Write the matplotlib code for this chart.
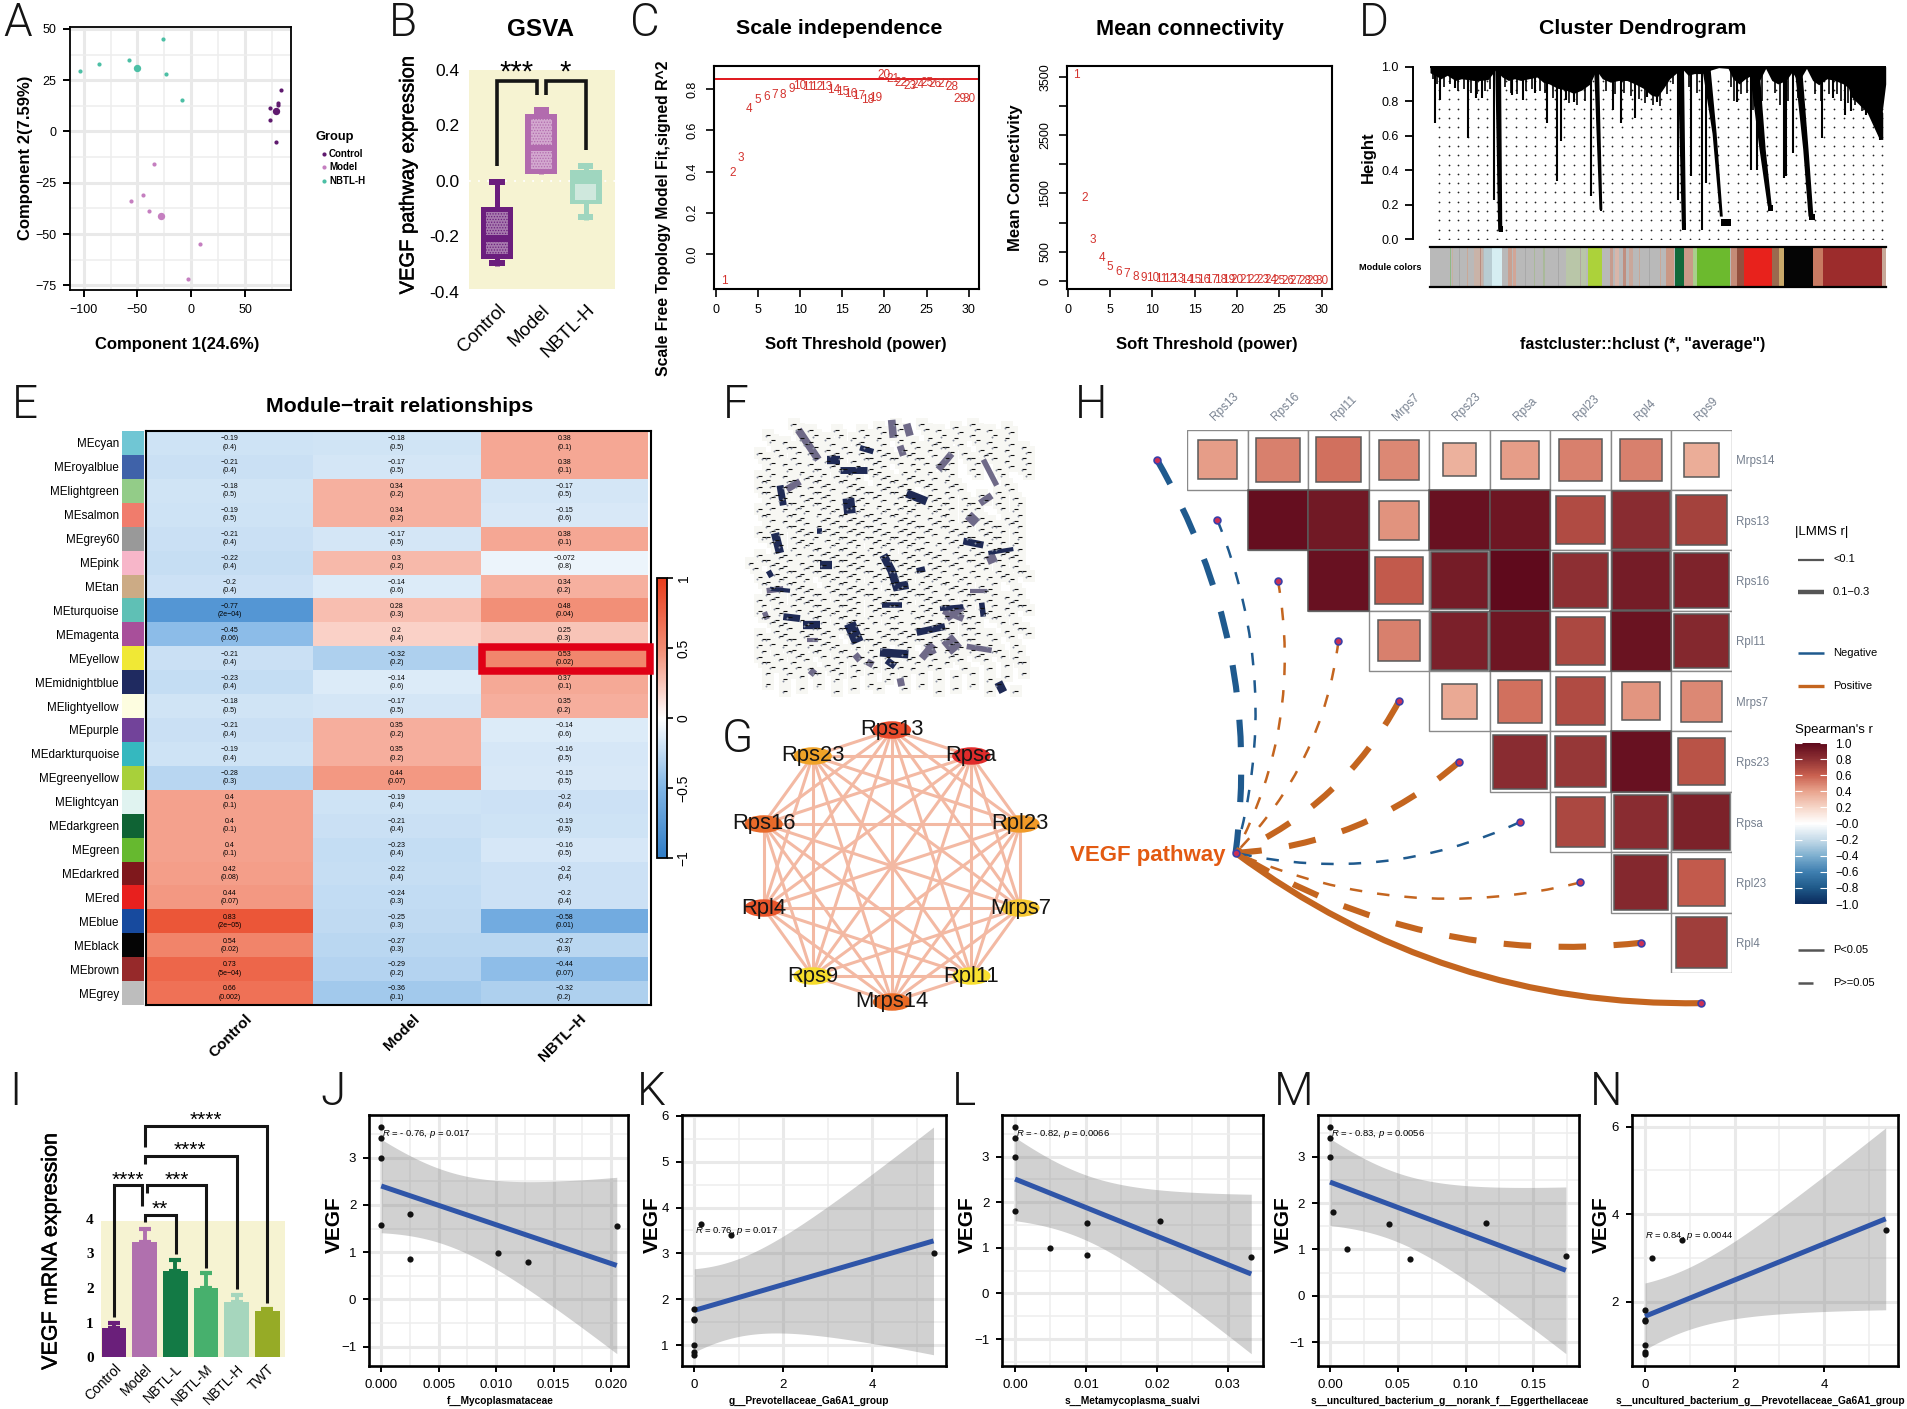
import numpy as np
import matplotlib
matplotlib.use('Agg')
import matplotlib.pyplot as plt
import matplotlib.patheffects as pe
from matplotlib.cm import ScalarMappable
from matplotlib.colors import LinearSegmentedColormap, ListedColormap, Normalize
from matplotlib.patches import Ellipse, PathPatch, Rectangle
from matplotlib.path import Path
from matplotlib.ticker import AutoMinorLocator

plt.rcParams['font.family'] = ['Liberation Sans', 'DejaVu Sans']
plt.rcParams['mathtext.fontset'] = 'custom'
plt.rcParams['mathtext.rm'] = 'Liberation Sans'
plt.rcParams['mathtext.it'] = 'Liberation Sans:italic'
plt.rcParams['hatch.linewidth'] = 0.6

W, H = 1907, 1409

# A: PCA scatter
pca_groups = ['Control', 'Model', 'NBTL-H']
pca_colors = ['#5f1a6e', '#c57fc0', '#4cbfa5']
pca_x = [[83.5, 80.3, 81, 73, 73, 78.5], [-34.3, -45, -56, -39, 8.5, -3], [-103.8, -85.7, -57.9, -26, -23, -8.2]]
pca_y = [[20.3, 14, 13, 11.3, 5.6, -5], [-15.7, -31, -33.7, -39, -54.7, -72], [29.7, 33, 34.7, 45, 28, 15.5]]
pca_cx = [78.5, -28, -50.7]
pca_cy = [10, -41, 31]

# B: GSVA boxes
box_names = ['Control', 'Model', 'NBTL-H']
box_top = [0.006, 0.265, 0.065]
box_q3 = [-0.095, 0.24, 0.04]
box_med = [-0.209, 0.118, -0.03]
box_q1 = [-0.282, 0.025, -0.085]
box_low = [-0.306, 0.025, -0.14]
box_dark = ['#6b1e7d', '#b26bae', '#9fd6bf']
box_light = ['#a77aae', '#d3a8cf', '#cfe8dd']

# C: soft threshold picks
powers = list(range(1, 31))
sft_fit = [-0.133, .392, .465, .704, .75, .764, .772, .774, .803, .818, .81, .813, .81, .797, .789,
           .777, .769, .748, .758, .868, .849, .829, .818, .823, .831, .824, .824, .811, .753, .753]
mean_k = [3529, 1416, 702, 388, 245, 160, 114, 74, 51, 51, 35, 30, 26, 23, 20,
          18, 16, 14, 13, 12, 11, 10, 9, 9, 8, 8, 7, 6, 6, 5]

# D: dendrogram
dend_x = [380, 392, 430, 462, 480, 495, 525, 570, 595, 625, 655, 680, 690, 700, 720, 762, 815, 835, 870,
          900, 925, 975, 1008, 1033, 1045, 1120, 1155, 1170, 1235, 1240, 1258, 1328, 1355, 1385, 1400, 1435, 1470]
dend_h = [.676, .807, .875, .585, .817, .817, .228, .836, .807, .845, .672, .334, .566, .807, .797, .247, .749, .676, .70,
          .826, .797, .228, .363, .054, .324, .797, .40, .40, .353, .363, .498, .585, .817, .72, .74, .72, .575]
short_x = [375, 385, 402, 418, 437, 452, 468, 483, 503, 516, 552, 566, 582, 602, 618, 638, 650, 668, 688, 708, 728, 748,
           798, 820, 842, 860, 880, 895, 915, 932, 948, 962, 1003, 1022, 1105, 1112, 1130, 1145, 1160, 1180, 1212, 1225,
           1245, 1268, 1312, 1325, 1345, 1365, 1375, 1392, 1410, 1425, 1445, 1455, 1465]
short_h = [.93, .90, .88, .90, .86, .87, .85, .84, .86, .87, .88, .85, .84, .86, .87, .86, .85, .82, .80, .79, .78, .80,
           .86, .84, .85, .83, .81, .79, .78, .77, .84, .90, .88, .85, .88, .80, .84, .85, .75, .80, .85, .78,
           .80, .82, .84, .80, .84, .84, .80, .79, .78, .74, .76, .70, .68]
band_x = [368, 380, 395, 410, 430, 445, 460, 475, 490, 510, 528, 545, 560, 575, 590, 610, 630, 645, 660, 680, 700, 720,
          740, 760, 775, 790, 810, 830, 850, 870, 890, 910, 925, 940, 955, 975, 985, 1000, 1015, 1035, 1055, 1075, 1098,
          1110, 1125, 1140, 1155, 1175, 1190, 1205, 1220, 1240, 1255, 1270, 1290, 1305, 1320, 1340, 1360, 1380, 1400, 1420,
          1440, 1460, 1475, 1484]
band_h = [.965, .95, .93, .95, .92, .93, .925, .92, .92, .925, .98, .94, .92, .93, .92, .93, .94, .91, .90, .875, .865, .845,
          .865, .90, .98, .93, .91, .92, .92, .90, .875, .835, .825, .875, .93, .97, .99, .95, .96, .96, .98, .995, .99,
          .93, .90, .93, .95, .92, .99, .92, .90, .92, .97, .91, .99, .92, .895, .93, .92, .90, .865, .855, .825, .77, .73, .90]
dend_falls = [
    [(1035, .99), (1055, .99), (1070, .61), (1085, .13), (1078, .13), (1060, .61)],
    [(1150, .99), (1175, .99), (1190, .52), (1205, .19), (1195, .19), (1175, .52)],
    [(1262, .97), (1280, .97), (1295, .52), (1307, .13), (1295, .13), (1282, .52)],
    [(1380, .99), (1410, .98), (1450, .845), (1478, .73), (1478, .575), (1470, .575), (1440, .73), (1400, .825)],
    [(770, .99), (782, .99), (790, .17), (783, .17)],
    [(528, .98), (542, .98), (545, .044), (535, .044)],
    [(975, .99), (990, .99), (995, .058), (985, .058)],
]
blob_x0 = [1080, 536, 784, 985, 1195, 1295]
blob_x1 = [1104, 546, 790, 995, 1208, 1310]
blob_h0 = [.077, .04, .165, .055, .165, .11]
blob_h1 = [.115, .075, .20, .09, .20, .145]
seg_x0 = [368, 416, 422, 475, 490, 500, 520, 558, 572, 645, 700, 755, 810, 822, 840, 856, 945, 968, 990, 1012, 1022, 1105,
          1120, 1138, 1205, 1222, 1235, 1305, 1330, 1476, 440, 458, 600, 622, 682, 735, 880, 905, 932]
seg_x1 = [1484, 419, 425, 498, 494, 520, 545, 568, 578, 649, 750, 790, 816, 830, 848, 866, 965, 990, 1012, 1022, 1103, 1120,
          1138, 1205, 1222, 1235, 1305, 1330, 1476, 1484, 442, 460, 603, 624, 685, 738, 883, 907, 934]
seg_col = ['#b9b9b9', '#8fb884', '#c8b0a0', '#c9b3a8', '#b98c80', '#b8ccd2', '#d6eef2', '#c9a090', '#d2a596', '#a9b99a',
           '#b9c6a8', '#acd23a', '#c79c8e', '#d8b6aa', '#c08f80', '#caa79a', '#c99885', '#10693a', '#c99a88', '#a9cf8c',
           '#6cba2e', '#c58b78', '#94503f', '#e8221c', '#9a6a4f', '#c9a96a', '#050505', '#c87a62', '#9c2c2c', '#c8a898',
           '#a8a8a8', '#c8a898', '#a9a9a9', '#a9b99a', '#a8a8a8', '#b0a8a0', '#c8a898', '#a8a8a8', '#c8a898']

# E: module-trait table
me_names = ['MEcyan', 'MEroyalblue', 'MElightgreen', 'MEsalmon', 'MEgrey60', 'MEpink', 'MEtan', 'MEturquoise',
            'MEmagenta', 'MEyellow', 'MEmidnightblue', 'MElightyellow', 'MEpurple', 'MEdarkturquoise',
            'MEgreenyellow', 'MElightcyan', 'MEdarkgreen', 'MEgreen', 'MEdarkred', 'MEred', 'MEblue', 'MEblack',
            'MEbrown', 'MEgrey']
me_colors = ['#70c6d4', '#3f62a9', '#93cc88', '#f07c6c', '#999999', '#f7b6c9', '#ccab85', '#5fc0b5', '#a84f9a',
             '#f0e835', '#1f2a60', '#fdfde0', '#72439a', '#35b8bf', '#a8d03a', '#e0f3f0', '#0f6334', '#66b92f',
             '#7f181c', '#e8201e', '#174a9e', '#050505', '#96292a', '#bdbdbd']
trait_names = ['Control', 'Model', 'NBTL−H']
r_control = [-.19, -.21, -.18, -.19, -.21, -.22, -.2, -.77, -.45, -.21, -.23, -.18, -.21, -.19, -.28, .4, .4, .4, .42,
             .44, .83, .54, .73, .66]
r_model = [-.18, -.17, .34, .34, -.17, .3, -.14, .28, .2, -.32, -.14, -.17, .35, .35, .44, -.19, -.21, -.23, -.22,
           -.24, -.25, -.27, -.29, -.36]
r_nbtl = [.38, .38, -.17, -.15, .38, -.072, .34, .48, .25, .53, .37, .35, -.14, -.16, -.15, -.2, -.19, -.16, -.2, -.2,
          -.58, -.27, -.44, -.32]
p_control = ['0.4', '0.4', '0.5', '0.5', '0.4', '0.4', '0.4', '2e−04', '0.06', '0.4', '0.4', '0.5', '0.4', '0.4', '0.3',
             '0.1', '0.1', '0.1', '0.08', '0.07', '2e−05', '0.02', '5e−04', '0.002']
p_model = ['0.5', '0.5', '0.2', '0.2', '0.5', '0.2', '0.6', '0.3', '0.4', '0.2', '0.6', '0.5', '0.2', '0.2', '0.07',
           '0.4', '0.4', '0.4', '0.4', '0.3', '0.3', '0.3', '0.2', '0.1']
p_nbtl = ['0.1', '0.1', '0.5', '0.6', '0.1', '0.8', '0.2', '0.04', '0.3', '0.02', '0.1', '0.2', '0.6', '0.5', '0.5',
          '0.4', '0.5', '0.5', '0.4', '0.4', '0.01', '0.3', '0.07', '0.2']

# F: node occupancy and the heavier edges, in network layout units
net_rows = ['......x.x..x..x.x.x..x.x.x.x.x.x..', '...x.x.xx.x..xx.x.x.x.xx.x.x.x.x..',
            '..x.x.x.x.xxx.x.xx.xx.x.x.x.xx.x.x', '...x.xx.x.xx.x.xx.x.xx.xx..x...x.x',
            '..xx.x.xxx.xxx.xxx.xx.x.x..x..x..x', '..xx.xx.xxx.xxx.xxxx.xx.xx.....x..',
            '...xxx.xxxx.xxxxx.xxx.xxx.x.x.x.x.', '..xx.xxx.xxxxxx.xxxxx.xxx.xx..x.x.',
            '...x.xxx.xxxxxxxx.xxx.xxx.x.xx.xx.', '..xxx.xxxxxxxxxxxxxxxxx.xxx.xxx.x.',
            '...xx.xxx.xxxx.xxxxxxx.xxx.x.xx.x.', '..x.xxx.xxxxxxxxxx.xxxxx.xxxx.xxx.',
            '.x.xxx.xxx.xxxx.xxxxx.xxxx.xx.x.x.', '..x.xxxx.xxxxx.xxxxx.xxx.xxx.xxx.x',
            '...xx.xxx.xxxxxx.xxxxxx.xxx.xx..x.', '..xxx.xxxx.xxx.xxxxx.xxxx.xx.x.xx.',
            '..x.xxx.xxxxxx.xxxx.xxx.xxx.xx.x.x', '...xxx.xxx.xxxxx.xx.xxxxx.xx..x.x.',
            '..x.xx.xxxx.xxx.xxxxx.xxx.xx.x.x.x', '..xx.xx.xxxx.x.xx.xx.xx.xx.x.x..x.',
            '..x.x.xx.x.xx.xx.x.xx.x.xx.xx.x.x.', '...x.xx.x.xx.x.x.xx.x.xxx.x..x.x.x',
            '...x.x.x.x.x.x.x.x.x.x.x.x.x.x.x.x', '...x.x.x.x.x.x.xx..x.x.x.x.x.xx.x.']
edge_dark = [[(380, 150), (420, 150)], [(480, 120), (520, 130)], [(420, 175), (500, 175)], [(620, 235), (680, 255)],
             [(430, 268), (465, 265)], [(240, 215), (250, 265)], [(225, 335), (240, 385)], [(350, 330), (365, 330)],
             [(550, 390), (575, 430), (590, 470), (625, 465)], [(650, 430), (675, 425)], [(360, 415), (395, 415)],
             [(205, 430), (215, 445)], [(210, 475), (270, 480)], [(250, 545), (300, 550)], [(310, 565), (360, 565)],
             [(545, 515), (605, 515)], [(445, 592), (478, 580)], [(650, 585), (735, 570)], [(540, 635), (625, 640)],
             [(560, 655), (585, 670)], [(790, 355), (850, 365)], [(865, 385), (940, 375)], [(845, 510), (850, 545)],
             [(895, 710), (910, 735)], [(720, 525), (790, 520)]]
edge_dark_w = [6, 4, 5, 6, 11, 5, 6, 4, 6, 4, 6, 4, 3, 5, 6, 4, 15, 5, 6, 5, 5, 3, 4, 6, 3.5]
edge_grey = [[(295, 75), (355, 150)], [(575, 50), (580, 95)], [(620, 60), (630, 90)], [(600, 115), (610, 140)],
             [(715, 175), (755, 135)], [(850, 150), (890, 215)], [(840, 260), (875, 240)], [(260, 225), (300, 205)],
             [(805, 290), (830, 310)], [(870, 390), (880, 410)], [(200, 480), (250, 475)], [(190, 545), (205, 540)],
             [(320, 605), (355, 605)], [(465, 640), (480, 655)], [(515, 655), (505, 670)], [(665, 650), (700, 615)],
             [(685, 615), (700, 640)], [(740, 600), (770, 630)], [(730, 530), (790, 550)], [(740, 550), (790, 520)],
             [(800, 620), (875, 630)], [(600, 700), (605, 720)], [(330, 680), (345, 690)], [(810, 480), (860, 480)]]
edge_grey_w = [5.5, 5.5, 5.5, 5, 5, 4, 5, 5, 7, 7, 4, 5.5, 3, 5, 5, 5.5, 5.5, 10, 5, 5, 4, 5, 5, 3]

# G: hub genes
hub_genes = ['Rps13', 'Rpsa', 'Rpl23', 'Mrps7', 'Rpl11', 'Mrps14', 'Rps9', 'Rpl4', 'Rps16', 'Rps23']
hub_colors = ['#e84a2a', '#e02b2b', '#f09a28', '#f6c832', '#f8e030', '#e96a25', '#f6dc2c', '#e8552a', '#e86a2a', '#f0a328']

# H: correlation triangle and links
top_genes = ['Rps13', 'Rps16', 'Rpl11', 'Mrps7', 'Rps23', 'Rpsa', 'Rpl23', 'Rpl4', 'Rps9']
side_genes = ['Mrps14', 'Rps13', 'Rps16', 'Rpl11', 'Mrps7', 'Rps23', 'Rpsa', 'Rpl23', 'Rpl4']
corr_rows = [[.42, .5, .55, .48, .35, .42, .5, .5, .36],
             [.97, .92, .45, .96, .93, .68, .82, .72],
             [.96, .62, .9, 1.0, .8, .9, .86],
             [.5, .88, .93, .7, .95, .84],
             [.38, .55, .68, .44, .48],
             [.82, .77, .96, .65],
             [.7, .82, .87],
             [.84, .62],
             [.74]]
size_rows = [[.64, .72, .75, .67, .55, .63, .7, .7, .57],
             [1, 1, .65, 1, 1, .8, .95, .83],
             [1, .78, .95, 1, .9, .97, .92],
             [.68, .95, 1, .8, 1, .9],
             [.58, .72, .8, .63, .67],
             [.9, .85, 1, .78],
             [.82, .9, .93],
             [.9, .78],
             [.85]]
link_positive = [False, False, True, True, True, True, False, True, True, True]
link_strong = [True, False, False, False, True, True, False, False, True, True]
link_signif = [False, False, False, False, False, False, False, False, False, True]

# I: qPCR bars
qpcr_names = ['Control', 'Model', 'NBTL-L', 'NBTL-M', 'NBTL-H', 'TWT']
qpcr_mean = [.84, 3.33, 2.48, 2.01, 1.59, 1.35]
qpcr_sd = [.16, .36, .33, .41, .21, .04]
qpcr_colors = ['#6a1f7a', '#b070ae', '#137a45', '#47b06d', '#a6d6bd', '#96ab26']
star_txt = ['****', '**', '***', '****', '****']

# J-N: correlation scatters
vegf_j = [3.64, 3.41, 3.0, 1.575, 1.8, .85, .99, .8, 1.56]
micro_j = [0, 0, 0, 0, .0025, .0025, .0102, .0128, .0205]
vegf_k = [1.8, 1.575, 1.56, 1.0, .85, .8, 3.64, 3.41, 3.0]
micro_k = [0, 0, 0, 0, 0, 0, .16, .83, 5.37]
vegf_l = [3.64, 3.41, 3.0, 1.8, 1.0, 1.55, .85, 1.58, .8]
micro_l = [0, 0, 0, 0, .005, .0102, .0102, .0205, .0333]
vegf_m = [3.64, 3.41, 3.0, 1.8, 1.0, 1.55, .8, 1.58, .85]
micro_m = [0, 0, 0, .0025, .0125, .0435, .059, .115, .174]
vegf_n = [1.8, 1.575, 1.56, 1.0, .85, .8, 3.0, 3.41, 3.64]
micro_n = [0, 0, 0, 0, 0, 0, .16, .83, 5.37]

fig = plt.figure(figsize=(W / 100, H / 100), dpi=100)
heavy = [pe.withStroke(linewidth=.35, foreground='black')]


def add_ax(box):
    l, t, r, b = box
    return fig.add_axes([l / W, 1 - b / H, (r - l) / W, (b - t) / H])


def xlabel_at(ax, box, text, cx, cy, **kw):
    l, t, r, b = box
    ax.set_xlabel(text, **kw)
    ax.xaxis.set_label_coords((cx - l) / (r - l), (b - cy) / (b - t))
    ax.xaxis.label.set_va('center')


def ylabel_at(ax, box, text, cx, cy, **kw):
    l, t, r, b = box
    ax.set_ylabel(text, **kw)
    ax.yaxis.set_label_coords((cx - l) / (r - l), (b - cy) / (b - t))
    ax.yaxis.label.set_va('center')


def title_at(ax, box, text, cx, cy, size=15.4):
    l, t, r, b = box
    ax.set_title(text, x=(cx - l) / (r - l), y=(b - cy) / (b - t), va='center', fontweight='bold', fontsize=size, pad=0)


def frame(ax, lw=1.5):
    for s in ax.spines.values():
        s.set_linewidth(lw)


def bracket(ax, x0, y0, ytop, x1, y1, lw):
    ax.plot([x0, x0, x1, x1], [y0, ytop, ytop, y1], color='#151515', lw=lw, clip_on=False,
            solid_joinstyle='miter', solid_capstyle='butt', zorder=5)


# ---- A
box = (70, 27.3, 291, 290)
ax = add_ax(box)
for i in range(3):
    ax.scatter(pca_x[i], pca_y[i], s=9, color=pca_colors[i], zorder=3, lw=0)
    ax.scatter(pca_cx[i], pca_cy[i], s=28, color=pca_colors[i], zorder=3, lw=0)
ax.set_xlim(-112.7, 92.8)
ax.set_ylim(-77.3, 50.8)
ax.set_xticks([-100, -50, 0, 50])
ax.set_yticks([-75, -50, -25, 0, 25, 50])
ax.xaxis.set_minor_locator(AutoMinorLocator(2))
ax.yaxis.set_minor_locator(AutoMinorLocator(2))
ax.grid(which='major', color='#e9e9e9', lw=2.2)
ax.grid(which='minor', color='#eeeeee', lw=1.1)
ax.set_axisbelow(True)
ax.tick_params(which='minor', length=0)
ax.tick_params(which='major', length=5, width=1.4, labelsize=9, pad=5)
frame(ax, 1.3)
xlabel_at(ax, box, 'Component 1(24.6%)', 177.5, 344, fontweight='bold', fontsize=12)
ylabel_at(ax, box, 'Component 2(7.59%)', 25.3, 158, fontweight='bold', fontsize=12)

# ---- B
box = (469, 70, 615, 291.7)
ax = add_ax(box)
ax.bar([1.015], [0.791], bottom=-0.391, width=3.29, color='#f6f3d2', zorder=0)
ax.axhline(0, color='white', lw=1.3, ls=(0, (1, 4)), zorder=1)
ax.set_xlim(-0.63, 2.66)
ax.set_ylim(-0.4, 0.4)
ax.set_xticks(range(3))
ax.set_xticklabels(box_names, rotation=45, ha='right', rotation_mode='anchor', fontsize=13.5)
ax.set_yticks([-.4, -.2, 0, .2, .4])
ax.set_yticklabels(['-0.4', '-0.2', '0.0', '0.2', '0.4'], fontsize=12.5)
ax.tick_params(length=0, pad=7)
for s in ax.spines.values():
    s.set_visible(False)
for i in range(3):
    ax.plot([i, i], [box_low[i], box_top[i]], color=box_dark[i], lw=3.6, solid_capstyle='butt', zorder=2)
    ax.bar(i, 0.022, bottom=box_top[i] - 0.022, width=0.34, color=box_dark[i], zorder=2)
    if box_low[i] < box_q1[i]:
        ax.bar(i, 0.022, bottom=box_low[i], width=0.34, color=box_dark[i], zorder=2)
    ax.bar(i, box_q3[i] - box_q1[i], bottom=box_q1[i], width=0.72, color=box_dark[i], zorder=3)
    if i < 2:
        ax.bar(i, box_q3[i] - box_med[i] - 0.03, bottom=box_med[i] + 0.012, width=0.48, facecolor=box_light[i],
               edgecolor=box_dark[i], hatch='......', lw=0, zorder=4)
        ax.bar(i, box_med[i] - box_q1[i] - 0.03, bottom=box_q1[i] + 0.018, width=0.48, facecolor=box_light[i],
               edgecolor=box_dark[i], hatch='......', lw=0, zorder=4)
    else:
        ax.bar(i, box_q3[i] - box_q1[i] - 0.07, bottom=box_q1[i] + 0.017, width=0.48, facecolor=box_light[i], zorder=4)
bracket(ax, 0, .054, .359, .905, .308, 2.6)
bracket(ax, 1.1, .308, .359, 2, .112, 2.6)
ax.text(.45, .392, '***', ha='center', va='center', fontsize=21, clip_on=False)
ax.text(1.54, .392, '*', ha='center', va='center', fontsize=21, clip_on=False)
ylabel_at(ax, box, 'VEGF pathway expression', 408, 175, fontsize=14.5, path_effects=heavy)
title_at(ax, box, 'GSVA', 541, 29, size=17.5)

# ---- C
box = (714, 66, 979, 289)
ax = add_ax(box)
for p, v in zip(powers, sft_fit):
    ax.text(p, v, str(p), color='#d4332e', fontsize=8.5, ha='center', va='center')
ax.axhline(.852, color='#e0161c', lw=1.4)
ax.set_xlim(-.18, 31.2)
ax.set_ylim(-.171, .913)
ax.set_xticks(range(0, 31, 5))
ax.set_yticks([0, .2, .4, .6, .8])
ax.set_yticklabels(['0.0', '0.2', '0.4', '0.6', '0.8'], rotation=90, va='center')
ax.tick_params(length=6, width=1.2, labelsize=9, pad=5)
frame(ax)
xlabel_at(ax, box, 'Soft Threshold (power)', 856, 344, fontweight='bold', fontsize=12)
ylabel_at(ax, box, 'Scale Free Topology Model Fit,signed R^2', 663.7, 218, fontweight='bold', fontsize=11.3)
title_at(ax, box, 'Scale independence', 839, 29)

box = (1066.5, 66, 1332, 289)
ax = add_ax(box)
for p, v in zip(powers, mean_k):
    ax.text(p, v, str(p), color='#d4332e', fontsize=8.5, ha='center', va='center')
ax.set_xlim(-.15, 31.2)
ax.set_ylim(-137, 3683)
ax.set_xticks(range(0, 31, 5))
ax.set_yticks(range(0, 3501, 500))
ax.set_yticklabels(['0', '500', '', '1500', '', '2500', '', '3500'], rotation=90, va='center')
ax.tick_params(length=6, width=1.2, labelsize=9, pad=5)
frame(ax)
xlabel_at(ax, box, 'Soft Threshold (power)', 1207, 344, fontweight='bold', fontsize=12)
ylabel_at(ax, box, 'Mean Connectivity', 1015.5, 178, fontweight='bold', fontsize=12)
title_at(ax, box, 'Mean connectivity', 1190, 29, size=15.6)

# ---- D
box = (1430, 66, 1885.7, 239)
ax = add_ax(box)
dot_x, dot_y = np.meshgrid(np.arange(390, 1484, 23.6), np.arange(.0, .94, .054))
ax.scatter(dot_x, dot_y, s=1.6, color='#222222', lw=0, zorder=1)
ax.fill_between(band_x, band_h, 1.0, color='black', lw=0, zorder=2)
ax.vlines(dend_x, dend_h, 1.0, color='black', lw=1.5, zorder=2)
ax.vlines(short_x, short_h, 1.0, color='black', lw=1.2, zorder=2)
for poly in dend_falls:
    ax.fill(*zip(*poly), color='black', lw=0, zorder=2)
for x0, x1, h0, h1 in zip(blob_x0, blob_x1, blob_h0, blob_h1):
    ax.fill_between([x0, x1], h0, h1, color='black', lw=0, zorder=2)
ax.plot([368, 1484], [1, 1], color='black', lw=1.6, zorder=3)
ax.set_xlim(368, 1484)
ax.set_ylim(0, 1.004)
ax.set_xticks([])
ax.set_yticks([0, .2, .4, .6, .8, 1])
ax.set_yticklabels(['0.0', '0.2', '0.4', '0.6', '0.8', '1.0'], rotation=90, va='center')
ax.tick_params(length=6, width=1.3, labelsize=9, pad=4)
for k in ['top', 'right', 'bottom']:
    ax.spines[k].set_visible(False)
ax.spines['left'].set_position(('outward', 12.5))
ax.spines['left'].set_bounds(0, 1)
ax.spines['left'].set_linewidth(1.4)
ylabel_at(ax, box, 'Height', 1368, 157, fontweight='bold', fontsize=12)
title_at(ax, box, 'Cluster Dendrogram', 1643, 29)

box = (1430, 247, 1885.7, 287)
ax = add_ax(box)
ax.barh([.5] * len(seg_x0), np.subtract(seg_x1, seg_x0), left=seg_x0, height=1, color=seg_col, lw=0)
ax.set_xlim(368, 1484)
ax.set_ylim(0, 1)
ax.set_xticks([])
ax.set_yticks([.5])
ax.set_yticklabels(['Module colors'], fontsize=6.6, fontweight='bold')
ax.tick_params(length=0, pad=6)
for k in ['left', 'right']:
    ax.spines[k].set_visible(False)
for k in ['top', 'bottom']:
    ax.spines[k].set_linewidth(1.6)
xlabel_at(ax, box, 'fastcluster::hclust (*, "average")', 1643, 344, fontweight='bold', fontsize=11.5)

# ---- E
cmap_me = LinearSegmentedColormap.from_list('me', [(0, '#2f7cc5'), (.25, '#80b5e5'), (.5, '#ffffff'), (.75, '#f28b72'),
                                                   (1, '#e83c1c')])
norm_me = Normalize(-1, 1)
r_table = np.array([r_control, r_model, r_nbtl]).T
p_table = [p_control, p_model, p_nbtl]
box = (146, 431, 651, 1005)
ax = add_ax(box)
ax.pcolormesh(np.arange(4), np.arange(25), r_table, cmap=cmap_me, norm=norm_me)
for c in range(3):
    for r in range(24):
        txt = str(r_table[r, c]).replace('-', '−')
        ax.text(c + .5, r + .5, txt + '\n(' + p_table[c][r] + ')', fontsize=5, ha='center', va='center',
                linespacing=1.25)
ax.set_xlim(0, 3.018)
ax.set_ylim(24, 0)
ax.set_yticks([])
ax.set_xticks([.59, 1.59, 2.59])
ax.set_xticklabels(trait_names, rotation=45, ha='right', rotation_mode='anchor', fontsize=11, fontweight='bold')
ax.tick_params(length=0, pad=5)
frame(ax)
title_at(ax, box, 'Module−trait relationships', 400, 406.7)

ax = add_ax((122, 431, 144, 1005))
ax.pcolormesh([0, 1], np.arange(25), np.arange(24).reshape(-1, 1), cmap=ListedColormap(me_colors), vmin=-.5, vmax=23.5)
ax.set_ylim(24, 0)
ax.set_xticks([])
ax.set_yticks(np.arange(24) + .5)
ax.set_yticklabels(me_names, fontsize=8.4)
ax.tick_params(length=0, pad=2.2)
for s in ax.spines.values():
    s.set_visible(False)

cax = add_ax((657, 578, 667, 858))
cb = fig.colorbar(ScalarMappable(norm=norm_me, cmap=cmap_me), cax=cax, ticks=[-1, -.5, 0, .5, 1])
cax.set_yticklabels(['−1', '−0.5', '0', '0.5', '1'], rotation=90, va='center', fontsize=10)
cax.tick_params(length=4, width=1.2, pad=3)
cb.outline.set_linewidth(1.3)

# ---- F
ax = add_ax((700, 400, 1100, 1020))
ax.set_xlim(0, 1200)
ax.set_ylim(1560, 0)
ax.axis('off')
net_x = [128 + c * 25.6 for r in net_rows for c, ch in enumerate(r) if ch == 'x']
net_y = [60 + i * 28.5 + (c % 3) * 8 for i, r in enumerate(net_rows) for c, ch in enumerate(r) if ch == 'x']
# second sheet of nodes, half a cell over, so the cloud is as dense as the original
net_x2 = [x + 14 for x in net_x[:-40]]
net_y2 = [y + 13 for y in net_y[:-40]]
ax.scatter(net_x + net_x2, net_y + net_y2, marker='s', s=80, color='#f7f7f3', lw=0, zorder=1)
for pts, w in zip(edge_grey, edge_grey_w):
    ax.plot(*zip(*pts), color='#6f6a88', lw=w, solid_capstyle='butt', zorder=2)
for pts, w in zip(edge_dark, edge_dark_w):
    ax.plot(*zip(*pts), color='#1f2a55', lw=w, solid_capstyle='butt', solid_joinstyle='miter', zorder=2)
ax.scatter(net_x + net_x2, net_y + net_y2, marker='_', s=9, color='#111111', lw=.8, zorder=3)
ax.scatter(np.subtract(net_x + net_x2, 8), np.add(net_y + net_y2, 3), marker='o', s=2, color='#8a90a0', lw=0, zorder=3)

# ---- G
ax = add_ax((757, 730, 1027, 1002))
ax.set_xlim(-1, 1)
ax.set_ylim(-1, 1)
ax.axis('off')
hub_ang = np.deg2rad(90 - 36 * np.arange(len(hub_genes)))
hub_x = np.cos(hub_ang)
hub_y = np.sin(hub_ang)
for i in range(len(hub_genes)):
    for j in range(i + 1, len(hub_genes)):
        ax.plot([hub_x[i], hub_x[j]], [hub_y[i], hub_y[j]], color='#f3b9a3', lw=2.2, zorder=1)
for i, g in enumerate(hub_genes):
    ax.add_patch(Ellipse((hub_x[i], hub_y[i]), .274, .118, color=hub_colors[i], zorder=2, clip_on=False))
    ax.text(hub_x[i], hub_y[i], g, fontsize=15.8, ha='center', va='center', color='#151515', zorder=3, clip_on=False)

# ---- H
cmap_h = LinearSegmentedColormap.from_list('h', [(0, '#0a2a5c'), (.1, '#1f5a8a'), (.2, '#3f7fb0'), (.3, '#7fb0d0'),
                                                 (.4, '#c6dbe9'), (.5, '#ffffff'), (.6, '#f6d6c8'), (.7, '#e9a48e'),
                                                 (.8, '#c9604f'), (.9, '#8e3033'), (1, '#5f0a1c')])
norm_h = Normalize(-1, 1)
box = (1187.2, 429.6, 1731.7, 973)
ax = add_ax(box)
ax.set_xlim(0, 9)
ax.set_ylim(9, 0)
for r, (vals, sizes) in enumerate(zip(corr_rows, size_rows)):
    for k, (v, s) in enumerate(zip(vals, sizes)):
        c = r + k
        ax.add_patch(Rectangle((c, r), 1, 1, fc='white', ec='#8a8a8a', lw=1.0, zorder=3))
        ax.add_patch(Rectangle((c + .5 - s / 2, r + .5 - s / 2), s, s, fc=cmap_h(norm_h(v)), ec='#5a5a5a', lw=1.1,
                               zorder=4))
ax.xaxis.tick_top()
ax.set_xticks(np.arange(9) + .5)
ax.set_xticklabels(top_genes, rotation=45, ha='left', rotation_mode='anchor', color='#76808f', fontsize=8.5)
ax.yaxis.tick_right()
ax.set_yticks(np.arange(9) + .5)
ax.set_yticklabels(side_genes, color='#76808f', fontsize=8.3)
ax.tick_params(length=0, pad=3)
ax.tick_params(axis='x', pad=5)
for s in ax.spines.values():
    s.set_visible(False)
src = np.array([.8, 7.01])
for i in range(10):
    end = np.array([i - .5, i + .5])
    d = end - src
    ctrl = (src + end) / 2 - .17 * np.array([d[1], -d[0]])
    col = '#c4651f' if link_positive[i] else '#1f5a8e'
    lw = 4.4 if link_strong[i] else 1.8
    ls = '-' if link_signif[i] else ((0, (4.5, 4.5)) if link_strong[i] else (0, (5, 6)))
    ax.add_patch(PathPatch(Path([end, ctrl, src], [Path.MOVETO, Path.CURVE3, Path.CURVE3]), fc='none', ec=col, lw=lw,
                           ls=ls, capstyle='butt', clip_on=False, zorder=2))
    ax.scatter(*end, s=24, fc='#cc2f55', ec='#3b3fa8', lw=1.2, clip_on=False, zorder=5)
ax.scatter(*src, s=24, fc='#cc2f55', ec='#3b3fa8', lw=1.2, clip_on=False, zorder=5)

cax = add_ax((1795, 743, 1827, 904))
cb = fig.colorbar(ScalarMappable(norm=norm_h, cmap=cmap_h), cax=cax, ticks=np.arange(-1, 1.01, .2))
cax.set_yticklabels([('%.1f' % v).replace('-', '−') for v in np.arange(-1, 1.01, .2)], fontsize=8.5)
cax.tick_params(direction='in', color='white', length=5, width=.8, left=True, right=True, pad=6)
cb.outline.set_visible(False)

# ---- I
box = (100.8, 1218.7, 284.5, 1357.3)
ax = add_ax(box)
ax.bar([2.567], [3.943], width=5.99, color='#f6f3d2', zorder=0)
for i in range(6):
    ax.bar(i, qpcr_mean[i], width=.8, color=qpcr_colors[i], zorder=2)
    ax.errorbar(i, qpcr_mean[i], yerr=[[0], [qpcr_sd[i]]], ecolor=qpcr_colors[i], elinewidth=2.8, capsize=4, capthick=3,
                zorder=1)
ax.set_xlim(-.427, 5.56)
ax.set_ylim(0, 3.943)
ax.set_xticks(range(6))
ax.set_xticklabels(qpcr_names, rotation=45, ha='right', rotation_mode='anchor', fontsize=10)
ax.set_yticks(range(5))
ax.set_yticklabels(['0', '1', '2', '3', '4'], family='Liberation Serif', fontweight='bold', fontsize=11)
ax.tick_params(length=0, pad=5)
ax.tick_params(axis='x', pad=3)
for s in ax.spines.values():
    s.set_visible(False)
bracket(ax, 0, 1.175, 4.97, .915, 4.36, 2.2)
bracket(ax, 1, 3.9, 4.11, 2.03, 2.98, 2.2)
bracket(ax, 1.07, 4.73, 4.97, 3, 2.58, 2.2)
bracket(ax, 1, 5.59, 5.82, 4, 1.96, 2.2)
bracket(ax, 1, 6.07, 6.68, 5, 1.58, 2.2)
for sx, sy, st in zip([.45, 1.5, 2.04, 2.49, 3], [5.1, 4.26, 5.1, 5.96, 6.84], star_txt):
    ax.text(sx, sy, st, ha='center', va='center', fontsize=15, clip_on=False)
ylabel_at(ax, box, 'VEGF mRNA expression', 51, 1251.7, fontsize=15.5, path_effects=heavy)


# ---- J-N
def scatter_panel(box, xs, ys, xlim, ylim, xticks, yticks, xfmt, xname, name_x, vegf_x, note, note_xy):
    ax = add_ax(box)
    xs = np.array(xs)
    ys = np.array(ys)
    xbar = xs.mean()
    sxx = ((xs - xbar) ** 2).sum()
    slope = ((xs - xbar) * (ys - ys.mean())).sum() / sxx
    icpt = ys.mean() - slope * xbar
    rse = np.sqrt(((ys - icpt - slope * xs) ** 2).sum() / (len(xs) - 2))
    grid = np.linspace(xs.min(), xs.max(), 80)
    fit = icpt + slope * grid
    half = 2.365 * rse * np.sqrt(1 / len(xs) + (grid - xbar) ** 2 / sxx)
    ax.fill_between(grid, fit - half, fit + half, color='#8c8c8c', alpha=.4, lw=0, zorder=2)
    ax.plot(grid, fit, color='#2f55a8', lw=3.6, solid_capstyle='butt', zorder=3)
    ax.scatter(xs, ys, s=20, color='#111111', lw=0, zorder=4)
    ax.set_xlim(*xlim)
    ax.set_ylim(*ylim)
    ax.set_xticks(xticks)
    ax.set_xticklabels([xfmt % v for v in xticks])
    ax.set_yticks(yticks)
    ax.xaxis.set_minor_locator(AutoMinorLocator(2))
    ax.yaxis.set_minor_locator(AutoMinorLocator(2))
    ax.grid(which='major', color='#e9e9e9', lw=2.2)
    ax.grid(which='minor', color='#eeeeee', lw=1.1)
    ax.set_axisbelow(True)
    ax.tick_params(which='minor', length=0)
    ax.tick_params(which='major', length=4.5, width=1.4, labelsize=9.5, pad=5)
    frame(ax, 1.9)
    ax.text(note_xy[0], note_xy[1], note, fontsize=6.8, va='center', zorder=5)
    xlabel_at(ax, box, xname, name_x, 1400.7, fontweight='bold', fontsize=7.3)
    ylabel_at(ax, box, 'VEGF', vegf_x, 1225, fontweight='bold', fontsize=15)


scatter_panel((369.4, 1115.3, 627.8, 1365.7), micro_j, vegf_j, (-.00103, .02146), (-1.402, 3.896),
              [0, .005, .01, .015, .02], [-1, 0, 1, 2, 3], '%.3f', 'f__Mycoplasmataceae', 500, 333.9,
              r'$\mathit{R}$ = - 0.76, $\mathit{p}$ = 0.017', (.0001, 3.5))
scatter_panel((682, 1115.3, 946, 1365.7), micro_k, vegf_k, (-.275, 5.65), (.557, 6.007),
              [0, 2, 4], [1, 2, 3, 4, 5, 6], '%d', 'g__Prevotellaceae_Ga6A1_group', 809, 652,
              r'$\mathit{R}$ = 0.76, $\mathit{p}$ = 0.017', (.02, 3.49))
scatter_panel((1002.4, 1115.3, 1263.3, 1365.7), micro_l, vegf_l, (-.00178, .035), (-1.585, 3.907),
              [0, .01, .02, .03], [-1, 0, 1, 2, 3], '%.2f', 's__Metamycoplasma_sualvi', 1132.6, 967.8,
              r'$\mathit{R}$ = - 0.82, $\mathit{p}$ = 0.0066', (.0001, 3.5))
scatter_panel((1318.2, 1115.3, 1579.4, 1365.7), micro_m, vegf_m, (-.0087, .184), (-1.503, 3.89),
              [0, .05, .1, .15], [-1, 0, 1, 2, 3], '%.2f', 's__uncultured_bacterium_g__norank_f__Eggerthellaceae',
              1449.6, 1283, r'$\mathit{R}$ = - 0.83, $\mathit{p}$ = 0.0056', (.0006, 3.49))
scatter_panel((1632, 1115.3, 1897.8, 1365.7), micro_n, vegf_n, (-.29, 5.64), (.537, 6.26),
              [0, 2, 4], [2, 4, 6], '%d', 's__uncultured_bacterium_g__Prevotellaceae_Ga6A1_group', 1760, 1601,
              r'$\mathit{R}$ = 0.84, $\mathit{p}$ = 0.0044', (0, 3.5))

# ---- overlay: panel letters, legends, the red box
ov = fig.add_axes([0, 0, 1, 1], zorder=20)
ov.set_xlim(0, W)
ov.set_ylim(H, 0)
ov.axis('off')
ov.patch.set_alpha(0)
letters = ['A', 'B', 'C', 'D', 'E', 'F', 'G', 'H', 'I', 'J', 'K', 'L', 'M', 'N']
letter_x = [3, 389, 630, 1359, 12, 723, 722, 1075, 9, 320, 637, 952, 1274, 1590]
letter_y = [36, 36, 36, 36, 418, 418, 752, 418, 1105, 1105, 1105, 1105, 1105, 1105]
for s, x, y in zip(letters, letter_x, letter_y):
    ov.text(x, y, s, fontsize=33, color='#151515', va='baseline', family=['Roboto', 'Liberation Sans'], fontweight=300)

ov.text(315, 137, 'Group', fontsize=9.3, fontweight='bold', va='center')
for name, col, y in zip(pca_groups, pca_colors, [153.7, 167.3, 181]):
    ov.scatter(324, y, s=9, color=col, lw=0)
    ov.text(329, y, name, fontsize=7, fontweight='bold', va='center')

ov.add_patch(Rectangle((482, 647), 168, 23.8, fc='none', ec='#e00016', lw=5.4))
ov.text(1069.8, 855, 'VEGF pathway', color='#e35a12', fontsize=16, fontweight='bold', va='center')

ov.text(1795, 531.6, '|LMMS r|', fontsize=9.5, va='center')
ov.text(1795, 730, "Spearman's r", fontsize=9.5, va='center')
legend_y = [559.5, 592, 653, 686, 950, 982.5]
legend_txt = ['<0.1', '0.1−0.3', 'Negative', 'Positive', 'P<0.05', 'P>=0.05']
legend_col = ['#555555', '#555555', '#1f5a8e', '#c4651f', '#555555', '#555555']
legend_lw = [1.6, 3.2, 1.8, 2.4, 1.8, 1.8]
legend_ls = ['-', '-', '-', '-', '-', (0, (6, 6))]
for y, t, c, lw, ls in zip(legend_y, legend_txt, legend_col, legend_lw, legend_ls):
    ov.plot([1798, 1824], [y, y], color=c, lw=lw, ls=ls, solid_capstyle='butt')
    ov.text(1833, y, t, fontsize=8, va='center')

fig.savefig('out.png', dpi=100)
